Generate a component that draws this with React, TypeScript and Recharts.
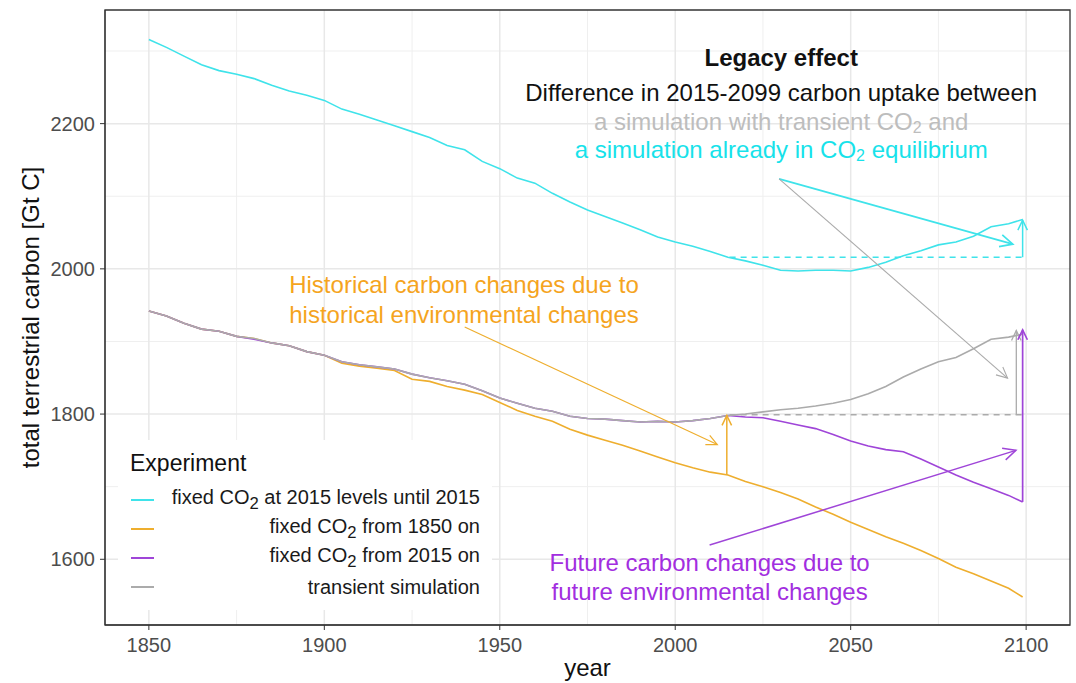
import { LineChart, Line, XAxis, YAxis, CartesianGrid, ReferenceLine, ReferenceDot, ReferenceArea, Label } from 'recharts'

// years of the simulation output (sampled)
const years = [
  1850, 1855, 1860, 1865, 1870, 1875, 1880, 1885, 1890, 1895,
  1900, 1905, 1910, 1915, 1920, 1925, 1930, 1935, 1940, 1945,
  1950, 1955, 1960, 1965, 1970, 1975, 1980, 1985, 1990, 1995,
  2000, 2005, 2010, 2015, 2020, 2025, 2030, 2035, 2040, 2045,
  2050, 2055, 2060, 2065, 2070, 2075, 2080, 2085, 2090, 2095, 2099,
]

// total terrestrial carbon [Gt C]
const fixedAt2015Levels = [
  2316, 2305, 2293, 2281, 2273, 2268, 2262, 2253, 2245, 2239,
  2232, 2220, 2213, 2205, 2197, 2189, 2181, 2170, 2164, 2148,
  2138, 2125, 2118, 2104, 2092, 2081, 2072, 2063, 2054, 2044,
  2037, 2031, 2024, 2016, 2011, 2005, 1998, 1997, 1998, 1998,
  1997, 2002, 2009, 2018, 2025, 2033, 2037, 2045, 2058, 2062, 2068,
]
const fixedFrom1850 = [
  1942, 1935, 1925, 1917, 1914, 1907, 1904, 1898, 1894, 1886,
  1881, 1870, 1866, 1863, 1860, 1848, 1845, 1838, 1833, 1827,
  1816, 1805, 1797, 1790, 1779, 1771, 1764, 1757, 1749, 1741,
  1733, 1726, 1720, 1716, 1707, 1700, 1692, 1683, 1672, 1662,
  1651, 1641, 1631, 1622, 1612, 1601, 1589, 1580, 1570, 1560, 1548,
]
const fixedFrom2015 = [
  1942, 1935, 1925, 1917, 1914, 1907, 1903, 1898, 1894, 1886,
  1881, 1872, 1868, 1865, 1862, 1855, 1850, 1846, 1841, 1832,
  1822, 1815, 1808, 1804, 1797, 1794, 1793, 1791, 1789, 1790,
  1789, 1791, 1794, 1798, 1796, 1795, 1790, 1785, 1780, 1772,
  1763, 1756, 1751, 1748, 1738, 1727, 1716, 1706, 1697, 1688, 1679,
]
const transient = [
  1942, 1935, 1925, 1917, 1914, 1907, 1904, 1898, 1894, 1886,
  1881, 1872, 1868, 1865, 1862, 1855, 1850, 1846, 1841, 1832,
  1822, 1815, 1808, 1804, 1797, 1794, 1793, 1791, 1789, 1790,
  1789, 1791, 1794, 1798, 1800, 1803, 1806, 1808, 1811, 1815,
  1820, 1828, 1838, 1851, 1862, 1872, 1878, 1890, 1903, 1906, 1910,
]

const xTicks = [1850, 1900, 1950, 2000, 2050, 2100]
const xMinor = [1875, 1925, 1975, 2025, 2075]
const yTicks = [1600, 1800, 2000, 2200]
const yMinor = [1700, 1900, 2100, 2300]

const CYAN = '#3fe3ea'
const ORANGE = '#eeae2e'
const PURPLE = '#9f45d8'
const GREY = '#ababab'
const FONT = '"Liberation Sans", Arial, sans-serif'

const data = years.map((year, i) => ({
  year,
  fixed2015levels: fixedAt2015Levels[i],
  fixed1850: fixedFrom1850[i],
  fixed2015: fixedFrom2015[i],
  transient: transient[i],
}))

const series = [
  { key: 'fixed2015levels', color: CYAN },
  { key: 'fixed1850', color: ORANGE },
  { key: 'fixed2015', color: PURPLE },
  { key: 'transient', color: GREY },
]

// line with an open arrow head at its end
const arrow = (color: string, width: number, head: number) => (p: any) => {
  const { x1, y1, x2, y2 } = p
  const a = Math.atan2(y2 - y1, x2 - x1)
  const s = Math.PI / 7
  const pts = [
    [x2 - head * Math.cos(a - s), y2 - head * Math.sin(a - s)],
    [x2, y2],
    [x2 - head * Math.cos(a + s), y2 - head * Math.sin(a + s)],
  ].map((q) => q.join(',')).join(' ')
  return (
    <g>
      <line x1={x1} y1={y1} x2={x2} y2={y2} stroke={color} strokeWidth={width} />
      <polyline points={pts} fill="none" stroke={color} strokeWidth={width} />
    </g>
  )
}

const arrows = [
  { from: [2029.6, 2124], to: [2096.2, 2034], color: CYAN, width: 1.7, head: 14 },
  { from: [2029.6, 2124], to: [2094.7, 1849.6], color: GREY, width: 1.1, head: 12 },
  { from: [2099, 2016], to: [2099, 2067], color: CYAN, width: 1.5, head: 11 },
  { from: [2097.2, 1799], to: [2097.2, 1915], color: GREY, width: 1.3, head: 11 },
  { from: [2099, 1679], to: [2099, 1916], color: PURPLE, width: 1.7, head: 11 },
  { from: [2014.7, 1716], to: [2014.7, 1798], color: ORANGE, width: 1.5, head: 11 },
  { from: [1940, 1920], to: [2012, 1758], color: ORANGE, width: 1.2, head: 12 },
  { from: [2009.8, 1619.6], to: [2097.1, 1750], color: PURPLE, width: 1.5, head: 14 },
]

const dashes = [
  { x1: 2015.5, x2: 2099, y: 2016, color: CYAN },
  { x1: 2015.5, x2: 2099, y: 1799, color: GREY },
]

// text before CO2, text after it (subscript 2 drawn lower and smaller)
const withCo2 = (before: string, after: string) => (
  <>
    {before}CO<tspan dy={6} fontSize={16}>2</tspan>
    <tspan dy={-6}>{after}</tspan>
  </>
)

const notes: { x: number; y: number; color: string; bold?: boolean; text: any }[] = [
  { x: 2030.2, y: 2291.5, color: '#111', bold: true, text: 'Legacy effect' },
  { x: 2030.2, y: 2243.4, color: '#111', text: 'Difference in 2015-2099 carbon uptake between' },
  { x: 2030.2, y: 2203.5, color: '#bdbdbd', text: withCo2('a simulation with transient ', ' and') },
  { x: 2030.2, y: 2164.5, color: '#17e2ea', text: withCo2('a simulation already in ', ' equilibrium') },
  { x: 1939.8, y: 1978, color: '#f5a41e', text: 'Historical carbon changes due to' },
  { x: 1939.8, y: 1937, color: '#f5a41e', text: 'historical environmental changes' },
  { x: 2009.8, y: 1595, color: '#a22ee0', text: 'Future carbon changes due to' },
  { x: 2009.8, y: 1555.2, color: '#a22ee0', text: 'future environmental changes' },
]

const legendItems = [
  { color: CYAN, label: <>fixed CO<sub>2</sub> at 2015 levels until 2015</> },
  { color: ORANGE, label: <>fixed CO<sub>2</sub> from 1850 on</> },
  { color: PURPLE, label: <>fixed CO<sub>2</sub> from 2015 on</> },
  { color: GREY, label: 'transient simulation' },
]

export default function App() {
  return (
    <div style={{ position: 'absolute', left: 0, top: 0, width: 1076, height: 683, background: '#fff', fontFamily: FONT }}>
      <LineChart width={1076} height={683} data={data} margin={{ top: 10, right: 6, bottom: 0, left: 0 }}>
        <CartesianGrid stroke="#efefef" strokeWidth={1} horizontalValues={yMinor} verticalValues={xMinor} />
        <CartesianGrid stroke="#e8e8e8" strokeWidth={1.5} horizontalValues={yTicks} verticalValues={xTicks} />
        <XAxis
          dataKey="year"
          type="number"
          domain={[1837.5, 2112.5]}
          ticks={xTicks}
          allowDataOverflow
          height={58}
          tickSize={5}
          tickMargin={8}
          tick={{ fontSize: 20, fill: '#4d4d4d', fontFamily: FONT }}
          stroke="#333"
        >
          <Label value="year" position="insideBottom" offset={7} style={{ fontSize: 24, fill: '#111', fontFamily: FONT }} />
        </XAxis>
        <YAxis
          type="number"
          domain={[1509.5, 2356.5]}
          ticks={yTicks}
          allowDataOverflow
          width={105}
          tickSize={5}
          tickMargin={5}
          tick={{ fontSize: 20, fill: '#4d4d4d', fontFamily: FONT }}
          stroke="#333"
        >
          <Label
            value="total terrestrial carbon [Gt C]"
            angle={-90}
            position="insideLeft"
            offset={30}
            style={{ fontSize: 24, fill: '#111', fontFamily: FONT, textAnchor: 'middle' }}
          />
        </YAxis>
        <ReferenceArea x1={1837.5} x2={2112.5} y1={1509.5} y2={2356.5} fill="none" stroke="#333" strokeWidth={1.3} ifOverflow="visible" />
        {series.map((s) => (
          <Line key={s.key} dataKey={s.key} type="linear" stroke={s.color} strokeWidth={1.6} dot={false} isAnimationActive={false} />
        ))}
        {dashes.map((d, i) => (
          <ReferenceLine
            key={'d' + i}
            segment={[{ x: d.x1, y: d.y }, { x: d.x2, y: d.y }]}
            stroke={d.color}
            strokeWidth={1.5}
            strokeDasharray="6 5"
          />
        ))}
        {arrows.map((a, i) => (
          <ReferenceLine
            key={'a' + i}
            segment={[{ x: a.from[0], y: a.from[1] }, { x: a.to[0], y: a.to[1] }]}
            stroke={a.color}
            shape={arrow(a.color, a.width, a.head)}
          />
        ))}
        {notes.map((n, i) => (
          <ReferenceDot
            key={'n' + i}
            x={n.x}
            y={n.y}
            r={0}
            shape={(p: any) => (
              <text
                x={p.cx}
                y={p.cy}
                textAnchor="middle"
                dominantBaseline="central"
                fill={n.color}
                fontSize={24}
                fontWeight={n.bold ? 700 : 400}
                fontFamily={FONT}
              >
                {n.text}
              </text>
            )}
          />
        ))}
      </LineChart>

      <div style={{ position: 'absolute', left: 118, top: 440, width: 374, height: 170, background: '#fff' }}>
        <div style={{ position: 'absolute', left: 12, top: 10, fontSize: 23, color: '#111' }}>Experiment</div>
        {legendItems.map((it, i) => (
          <div
            key={i}
            style={{
              position: 'absolute',
              left: 0,
              right: 0,
              top: 46 + i * 29,
              height: 28,
              display: 'flex',
              alignItems: 'center',
            }}
          >
            <div style={{ marginLeft: 13, width: 23, height: 2, background: it.color }} />
            <div style={{ flex: 1, textAlign: 'right', paddingRight: 12, fontSize: 20, color: '#1a1a1a', lineHeight: '28px' }}>
              {it.label}
            </div>
          </div>
        ))}
      </div>
    </div>
  )
}
